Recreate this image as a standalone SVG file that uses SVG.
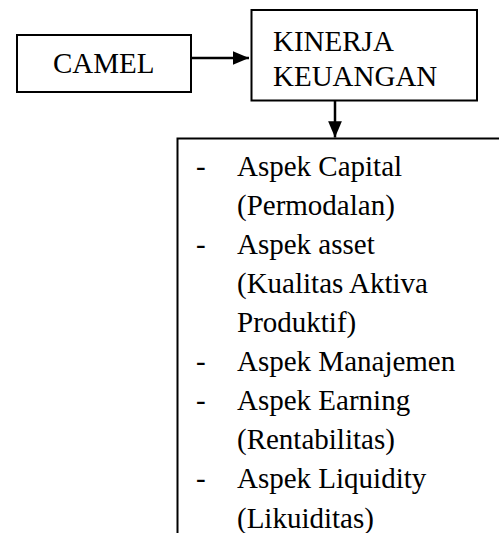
<svg xmlns="http://www.w3.org/2000/svg" width="499" height="533" viewBox="0 0 499 533">
<style>
.box{fill:#fff;stroke:#000;stroke-width:2}
.t{font-family:"Liberation Serif","Times New Roman",serif;font-size:29px;fill:#000}
.c{stroke:#000;stroke-width:2.5;fill:none}
</style>
<defs>
<marker id="ah" markerWidth="6.5" markerHeight="5.5" refX="6.5" refY="2.75" orient="auto" markerUnits="strokeWidth">
<path d="M0,0 L6.5,2.75 L0,5.5 Z" fill="#000"/>
</marker>
</defs>
<rect width="499" height="533" fill="#fff"/>
<g id="camel">
<rect class="box" x="17" y="35" width="174" height="57"/>
<text class="t" x="53" y="73">CAMEL</text>
</g>
<g id="kinerja">
<rect class="box" x="251.5" y="10" width="225.5" height="90.5"/>
<text class="t" x="273" y="51">KINERJA</text>
<text class="t" x="273" y="86">KEUANGAN</text>
</g>
<g id="aspek">
<rect class="box" x="177.5" y="138.5" width="340" height="420"/>
<text class="t">
<tspan x="196" y="176">-</tspan><tspan x="237" y="176">Aspek Capital</tspan>
<tspan x="237" y="215">(Permodalan)</tspan>
<tspan x="196" y="254">-</tspan><tspan x="237" y="254">Aspek asset</tspan>
<tspan x="237" y="293">(Kualitas Aktiva</tspan>
<tspan x="237" y="332">Produktif)</tspan>
<tspan x="196" y="371">-</tspan><tspan x="237" y="371">Aspek Manajemen</tspan>
<tspan x="196" y="410">-</tspan><tspan x="237" y="410">Aspek Earning</tspan>
<tspan x="237" y="449">(Rentabilitas)</tspan>
<tspan x="196" y="488">-</tspan><tspan x="237" y="488">Aspek Liquidity</tspan>
<tspan x="237" y="528">(Likuiditas)</tspan>
</text>
</g>
<g id="connectors">
<line class="c" x1="191" y1="58" x2="249" y2="58" marker-end="url(#ah)"/>
<line class="c" x1="335" y1="100.5" x2="335" y2="137.5" marker-end="url(#ah)"/>
</g>
</svg>
